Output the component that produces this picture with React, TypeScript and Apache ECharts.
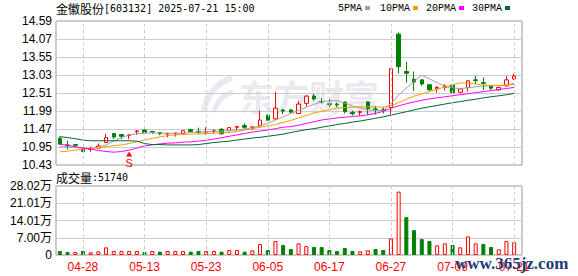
import React, { useEffect, useRef } from "react";
import * as echarts from "echarts";

const dates = [
  "04-23", "04-24", "04-25", "04-28", "04-29", "04-30",
  "05-06", "05-07", "05-08", "05-09", "05-12", "05-13", "05-14", "05-15", "05-16",
  "05-19", "05-20", "05-21", "05-22", "05-23", "05-26", "05-27", "05-28", "05-29", "05-30",
  "06-03", "06-04", "06-05", "06-06", "06-09", "06-10", "06-11", "06-12", "06-13",
  "06-16", "06-17", "06-18", "06-19", "06-20", "06-23", "06-24", "06-25", "06-26", "06-27", "06-30",
  "07-01", "07-02", "07-03", "07-04", "07-07", "07-08", "07-09", "07-10", "07-11",
  "07-14", "07-15", "07-16", "07-17", "07-18", "07-21",
];

const open = [
  11.20, 11.01, 11.02, 10.89, 10.88, 10.92, 11.08, 11.34, 11.31, 11.28,
  11.39, 11.44, 11.40, 11.37, 11.33, 11.33, 11.34, 11.45, 11.40, 11.37,
  11.40, 11.46, 11.42, 11.52, 11.57, 11.51, 11.56, 11.87, 11.76, 12.02,
  12.02, 11.92, 12.21, 12.42, 12.26, 12.20, 12.19, 12.25, 11.95, 11.95,
  12.25, 12.05, 12.03, 12.09, 14.21, 13.13, 12.91, 12.89, 12.75, 12.63,
  12.67, 12.74, 12.53, 12.67, 12.89, 12.81, 12.71, 12.60, 12.72, 12.92,
];
const close = [
  11.04, 10.98, 11.00, 10.82, 10.90, 10.98, 11.22, 11.24, 11.26, 11.30,
  11.41, 11.37, 11.38, 11.33, 11.34, 11.35, 11.42, 11.40, 11.38, 11.39,
  11.42, 11.33, 11.51, 11.54, 11.52, 11.53, 11.73, 11.72, 12.07, 11.99,
  11.96, 12.19, 12.42, 12.34, 12.25, 12.18, 12.17, 11.97, 11.91, 11.97,
  12.06, 12.03, 12.01, 13.21, 13.27, 13.08, 12.83, 12.77, 12.60, 12.67,
  12.71, 12.52, 12.63, 12.86, 12.87, 12.79, 12.65, 12.67, 12.89, 13.00,
];
const low = [
  11.01, 10.88, 10.95, 10.80, 10.81, 10.91, 11.06, 11.18, 11.17, 11.18,
  11.30, 11.36, 11.33, 11.29, 11.23, 11.25, 11.33, 11.39, 11.32, 11.30,
  11.33, 11.31, 11.40, 11.44, 11.47, 11.44, 11.53, 11.71, 11.73, 11.90,
  11.93, 11.91, 12.12, 12.29, 12.21, 12.10, 12.10, 11.92, 11.86, 11.85,
  11.89, 11.89, 11.92, 11.88, 13.08, 12.81, 12.57, 12.72, 12.58, 12.52,
  12.58, 12.51, 12.52, 12.55, 12.77, 12.60, 12.60, 12.58, 12.69, 12.89,
];
const high = [
  11.25, 11.13, 11.04, 10.91, 10.96, 11.05, 11.33, 11.35, 11.32, 11.33,
  11.44, 11.45, 11.41, 11.38, 11.36, 11.37, 11.44, 11.48, 11.51, 11.52,
  11.46, 11.50, 11.52, 11.56, 11.63, 11.54, 12.00, 11.89, 12.55, 12.05,
  12.05, 12.28, 12.45, 12.48, 12.36, 12.33, 12.23, 12.26, 12.00, 12.00,
  12.27, 12.14, 12.10, 13.21, 14.26, 13.41, 13.13, 12.90, 12.77, 12.71,
  12.76, 12.76, 12.65, 12.89, 13.00, 12.96, 12.73, 12.69, 13.00, 13.06,
];

const volume = [
  16200, 12100, 12100, 16200, 10800, 14800, 31000, 16200, 16200, 16200,
  16200, 12100, 16200, 13500, 16200, 16200, 16200, 13500, 16200, 16200,
  16200, 13500, 20000, 20000, 13500, 18900, 44500, 20000, 56600, 40400,
  24300, 47200, 36400, 32300, 32300, 20200, 16200, 28300, 16200, 14800,
  18900, 24300, 20200, 67400, 257400, 153600, 101100, 64700, 56600, 39100,
  47200, 40400, 31000, 75500, 47200, 44500, 32300, 22900, 56600, 51740,
];

const ma5 = [
  10.96, 10.95, 10.94, 10.92, 10.91, 10.95, 11.01, 11.12, 11.22, 11.30,
  11.33, 11.35, 11.36, 11.35, 11.35, 11.34, 11.35, 11.37, 11.38, 11.39,
  11.40, 11.41, 11.43, 11.44, 11.47, 11.50, 11.56, 11.63, 11.73, 11.82,
  11.92, 12.00, 12.10, 12.18, 12.26, 12.28, 12.29, 12.22, 12.14, 12.08,
  12.02, 12.01, 12.00, 12.21, 12.45, 12.65, 12.85, 13.02, 12.92, 12.81,
  12.70, 12.66, 12.64, 12.66, 12.69, 12.71, 12.72, 12.73, 12.74, 12.79,
];
const ma10 = [
  10.81, 10.83, 10.86, 10.89, 10.91, 10.93, 10.96, 10.99, 11.01, 11.05,
  11.10, 11.15, 11.20, 11.24, 11.28, 11.30, 11.31, 11.32, 11.33, 11.34,
  11.35, 11.36, 11.37, 11.40, 11.44, 11.48, 11.52, 11.56, 11.60, 11.66,
  11.72, 11.79, 11.86, 11.93, 11.98, 12.03, 12.07, 12.09, 12.10, 12.11,
  12.11, 12.11, 12.10, 12.14, 12.23, 12.33, 12.42, 12.48, 12.55, 12.62,
  12.68, 12.75, 12.80, 12.80, 12.77, 12.74, 12.73, 12.72, 12.74, 12.76,
];
const ma20 = [
  11.03, 11.00, 10.96, 10.92, 10.89, 10.85, 10.82, 10.80, 10.82, 10.86,
  10.92, 10.98, 11.01, 11.04, 11.06, 11.07, 11.09, 11.10, 11.12, 11.14,
  11.18, 11.22, 11.26, 11.30, 11.34, 11.38, 11.41, 11.44, 11.48, 11.52,
  11.54, 11.58, 11.63, 11.68, 11.73, 11.76, 11.79, 11.81, 11.83, 11.85,
  11.88, 11.92, 11.98, 12.07, 12.14, 12.20, 12.25, 12.30, 12.34, 12.37,
  12.40, 12.43, 12.46, 12.49, 12.52, 12.55, 12.58, 12.61, 12.64, 12.67,
];
const ma30 = [
  11.25, 11.22, 11.19, 11.15, 11.13, 11.13, 11.13, 11.13, 11.13, 11.13,
  11.12, 11.05, 11.02, 11.02, 11.01, 11.01, 11.01, 11.01, 11.02, 11.05,
  11.08, 11.10, 11.12, 11.15, 11.18, 11.21, 11.23, 11.26, 11.29, 11.32,
  11.37, 11.41, 11.45, 11.48, 11.52, 11.56, 11.60, 11.63, 11.67, 11.70,
  11.74, 11.78, 11.82, 11.87, 11.92, 11.97, 12.02, 12.07, 12.11, 12.15,
  12.19, 12.23, 12.26, 12.30, 12.33, 12.37, 12.40, 12.43, 12.46, 12.50,
];

const priceTicks = ["10.43", "10.95", "11.47", "11.99", "12.51", "13.03", "13.55", "14.07", "14.59"];
const volTicks = ["0", "7.00万", "14.01万", "21.01万", "28.02万"];
const dateTickIdx = [3, 11, 19, 27, 35, 43, 51, 59];
const priceMin = 10.43;
const priceMax = 14.59;
const volMax = 280200;
const markIdx = 9;
const markPrice = 10.75;

const legendItems = [
  { name: "5PMA", color: "#a0a0a0" },
  { name: "10PMA", color: "#f0a000" },
  { name: "20PMA", color: "#ff00ff" },
  { name: "30PMA", color: "#006633" },
];
const maSeries = [ma5, ma10, ma20, ma30];

const RED = "#ff0000";
const GREEN = "#008000";

export default function App() {
  const ref = useRef<HTMLDivElement>(null);
  useEffect(() => {
    if (!ref.current) return;
    const chart = echarts.init(ref.current, undefined, { renderer: "svg" });
    const legendX = [338, 380, 426, 472];
    const graphics: any[] = [
      {
        type: "text", x: 239, y: 95, z: -10,
        style: { text: "东方财富", font: "bold 35px 'Noto Sans CJK SC'", fill: "#e9e9ef", verticalAlign: "middle" },
      },
      {
        type: "bezierCurve", z: -10,
        shape: { x1: 204, y1: 111, x2: 232, y2: 78, cpx1: 206, cpy1: 95, cpx2: 218, cpy2: 82 },
        style: { stroke: "#e9e9ef", lineWidth: 6, fill: null },
      },
      {
        type: "bezierCurve", z: -10,
        shape: { x1: 214, y1: 112, x2: 233, y2: 92, cpx1: 217, cpy1: 101, cpx2: 224, cpy2: 94 },
        style: { stroke: "#e9e9ef", lineWidth: 5, fill: null },
      },
      {
        type: "text", x: 56, y: 8.5,
        style: { text: "金徽股份", font: "12px 'Noto Sans CJK SC'", fill: "#000", verticalAlign: "middle" },
      },
      {
        type: "text", x: 104, y: 8.5,
        style: { text: "[603132] 2025-07-21 15:00", font: "10px 'DejaVu Sans Mono'", fill: "#000", verticalAlign: "middle" },
      },
      {
        type: "text", x: 56, y: 177,
        style: { text: "成交量", font: "12px 'Noto Sans CJK SC'", fill: "#000", verticalAlign: "middle" },
      },
      {
        type: "text", x: 92, y: 177,
        style: { text: ":" + volume[volume.length - 1], font: "10px 'DejaVu Sans Mono'", fill: "#000", verticalAlign: "middle" },
      },
      {
        type: "text", x: 455, y: 263, z: 100,
        style: { text: "www.365jz.com", font: "bold 17px 'Liberation Serif'", fill: "#1f3c78", verticalAlign: "middle" },
      },
    ];
    legendItems.forEach((it, k) => {
      const w = it.name.length * 6;
      graphics.push({
        type: "text", x: legendX[k], y: 8.5,
        style: { text: it.name, font: "10px 'Liberation Mono'", fill: "#000", verticalAlign: "middle" },
      });
      graphics.push({
        type: "rect", shape: { x: legendX[k] + w + 3, y: 6, width: 5, height: 4 },
        style: { fill: it.color },
      });
    });

    const option: any = {
      animation: false,
      backgroundColor: "#fff",
      textStyle: { fontFamily: "'Liberation Sans', Arial, 'Noto Sans CJK SC', sans-serif" },
      grid: [
        { left: 56, top: 21, width: 466, height: 144, show: true, borderColor: "#999", borderWidth: 1 },
        { left: 56, top: 21, width: 462, height: 144 },
        { left: 56, top: 186, width: 466, height: 69, show: true, borderColor: "#999", borderWidth: 1 },
        { left: 56, top: 186, width: 462, height: 69 },
      ],
      xAxis: [
        { gridIndex: 0, type: "value", min: 0, max: 1, show: false },
        {
          gridIndex: 1, type: "category", data: dates, boundaryGap: true,
          axisLine: { show: false }, axisTick: { show: false }, axisLabel: { show: false }, splitLine: { show: false },
        },
        { gridIndex: 2, type: "value", min: 0, max: 1, show: false },
        {
          gridIndex: 3, type: "category", data: dates, boundaryGap: true,
          axisLine: { show: false }, axisTick: { show: false }, splitLine: { show: false },
          axisLabel: {
            interval: (i: number) => dateTickIdx.includes(i),
            color: RED, fontSize: 12, margin: 6,
            fontFamily: "'Liberation Sans', Arial, sans-serif",
          },
        },
      ],
      yAxis: [
        {
          gridIndex: 0, type: "value", min: 0, max: 8, interval: 1,
          axisLine: { show: false }, axisTick: { show: false },
          axisLabel: { formatter: (v: number) => priceTicks[Math.round(v)], color: "#000", fontSize: 12, margin: 4 },
          splitLine: { show: true, lineStyle: { color: "#ccc", width: 1 } },
        },
        { gridIndex: 1, type: "value", min: priceMin, max: priceMax, show: false },
        {
          gridIndex: 2, type: "value", min: 0, max: 4, interval: 1,
          axisLine: { show: false }, axisTick: { show: false },
          axisLabel: { formatter: (v: number) => volTicks[Math.round(v)], color: "#000", fontSize: 12, margin: 4 },
          splitLine: { show: true, lineStyle: { color: "#ccc", width: 1 } },
        },
        { gridIndex: 3, type: "value", min: 0, max: volMax, show: false },
      ],
      series: [
        {
          type: "line", xAxisIndex: 1, yAxisIndex: 1, data: [], z: 1, silent: true,
          markLine: {
            silent: true, symbol: ["none", "none"], label: { show: false },
            lineStyle: { type: [3, 3], color: "#ccc", width: 1 },
            data: dateTickIdx.map((i) => ({ xAxis: dates[i] })),
          },
        },
        {
          type: "line", xAxisIndex: 3, yAxisIndex: 3, data: [], z: 1, silent: true,
          markLine: {
            silent: true, symbol: ["none", "none"], label: { show: false },
            lineStyle: { type: [3, 3], color: "#ccc", width: 1 },
            data: dateTickIdx.map((i) => ({ xAxis: dates[i] })),
          },
        },
        {
          type: "candlestick", xAxisIndex: 1, yAxisIndex: 1, barWidth: 4, z: 2,
          data: dates.map((_, i) => [open[i], close[i], low[i], high[i]]),
          itemStyle: { color: "#fff", color0: GREEN, borderColor: RED, borderColor0: GREEN, borderColorDoji: RED, borderWidth: 1 },
          markPoint: {
            silent: true,
            data: [
              {
                coord: [dates[markIdx], markPrice], symbol: "triangle", symbolSize: [6, 5],
                itemStyle: { color: RED },
                label: { show: true, formatter: "S", position: "bottom", distance: 1, color: RED, fontSize: 11 },
              },
            ],
          },
        },
        ...maSeries.map((d, k) => ({
          type: "line", xAxisIndex: 1, yAxisIndex: 1, data: d, z: 3,
          symbol: "none", showSymbol: false, silent: true,
          lineStyle: { color: legendItems[k].color, width: 1 },
        })),
        {
          type: "bar", xAxisIndex: 3, yAxisIndex: 3, barWidth: 4, z: 2,
          data: volume.map((v, i) => {
            const up = i > 0 && close[i] >= close[i - 1];
            return {
              value: v,
              itemStyle: up
                ? { color: "#fff", borderColor: RED, borderWidth: 1 }
                : { color: GREEN, borderColor: GREEN, borderWidth: 1 },
            };
          }),
        },
      ],
      graphic: graphics,
    };
    chart.setOption(option);
    return () => chart.dispose();
  }, []);
  return <div ref={ref} style={{ position: "fixed", left: 0, top: 0, width: 578, height: 276 }} />;
}
